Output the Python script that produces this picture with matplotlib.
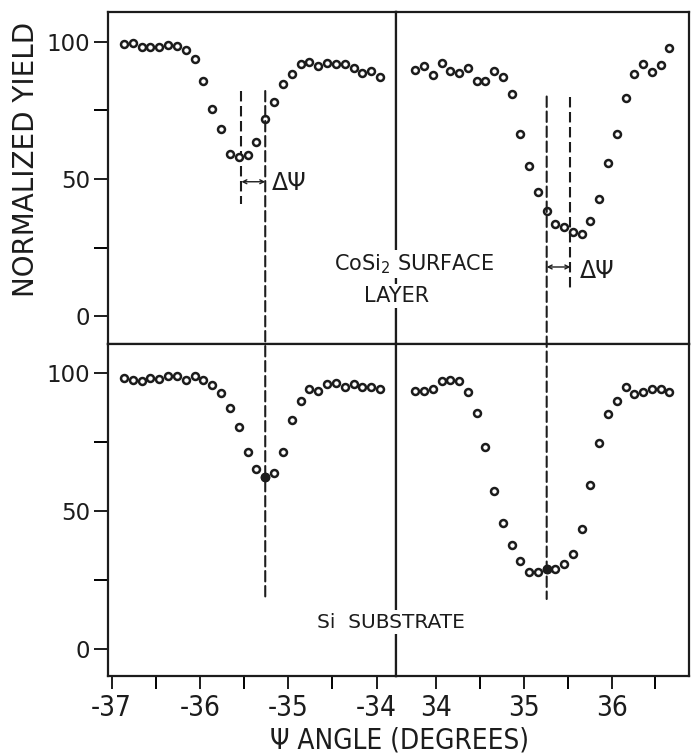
import matplotlib.pyplot as plt
from matplotlib.patches import ConnectionPatch

# scan angles (degrees) on both sides of the channel
psi_neg = [-36.86, -36.76, -36.66, -36.56, -36.46, -36.36, -36.26, -36.16, -36.06, -35.96,
           -35.86, -35.76, -35.66, -35.56, -35.46, -35.36, -35.26, -35.16, -35.06, -34.96,
           -34.86, -34.76, -34.66, -34.56, -34.46, -34.36, -34.26, -34.16, -34.06, -33.96]
psi_pos = [33.76, 33.86, 33.96, 34.06, 34.16, 34.26, 34.36, 34.46, 34.56, 34.66,
           34.76, 34.86, 34.96, 35.06, 35.16, 35.26, 35.36, 35.46, 35.56, 35.66,
           35.76, 35.86, 35.96, 36.06, 36.16, 36.26, 36.36, 36.46, 36.56, 36.66]

# normalized yield, CoSi2 surface layer
layer_neg = [99.2, 99.3, 97.9, 97.9, 98.1, 98.9, 98.2, 96.8, 93.8, 85.7,
             75.3, 68.1, 59.1, 58.0, 58.8, 63.5, 71.9, 78.0, 84.4, 88.1,
             91.7, 92.4, 91.2, 92.2, 91.9, 91.9, 90.5, 88.6, 89.3, 87.2]
layer_pos = [89.5, 91.0, 88.0, 92.3, 89.3, 88.5, 90.3, 85.7, 85.7, 89.4,
             87.0, 81.0, 66.5, 54.7, 45.1, 38.3, 33.5, 32.7, 30.7, 30.0,
             34.9, 42.8, 55.9, 66.2, 79.6, 88.1, 92.0, 88.8, 91.5, 97.6]

# normalized yield, Si substrate
sub_neg = [98.5, 97.6, 97.3, 98.5, 98.0, 98.9, 98.9, 97.7, 99.2, 97.6,
           95.7, 93.0, 87.6, 80.7, 71.3, 65.3, 62.3, 63.8, 71.3, 83.2,
           89.9, 94.5, 93.6, 96.1, 96.5, 94.9, 96.2, 95.0, 95.1, 94.5]
sub_pos = [93.5, 93.5, 94.4, 97.1, 97.7, 97.3, 93.1, 85.5, 73.4, 57.3,
           45.5, 37.7, 31.9, 27.8, 27.9, 29.0, 29.0, 30.8, 34.3, 43.4,
           59.5, 74.8, 85.1, 90.0, 95.1, 92.4, 93.1, 94.3, 94.3, 93.2]

# substrate minimum and shifted layer minimum
psi_sub_min = 35.26
psi_layer_min = 35.53

neg_ticks = [-37, -36, -35, -34]
neg_tick_labels = ['-37', '-36', '-35', '-34']
pos_ticks = [34, 35, 36]
pos_tick_labels = ['34', '35', '36']
yield_ticks = [0, 50, 100]

INK = '#1c1c1c'
plt.rcParams['font.family'] = ['DejaVu Sans']

fig = plt.figure(figsize=(6.94, 7.56), dpi=100)

L, M, R = 0.1556, 0.5706, 0.9935
B, C, T = 0.1058, 0.545, 0.984

ax_tl = fig.add_axes([L, C, M - L, T - C])
ax_tr = fig.add_axes([M, C, R - M, T - C])
ax_bl = fig.add_axes([L, B, M - L, C - B])
ax_br = fig.add_axes([M, B, R - M, C - B])

ylim = (-10, 110.7)
for ax in (ax_tl, ax_tr, ax_bl, ax_br):
    ax.set_ylim(*ylim)
    for s in ax.spines.values():
        s.set_linewidth(1.6)
        s.set_color(INK)
    ax.tick_params(direction='out', length=9, width=1.4, color=INK,
                   labelcolor=INK)
    ax.set_xticks([])
    ax.set_yticks([])

for ax in (ax_tl, ax_bl):
    ax.set_xlim(-37.04, -33.78)
for ax in (ax_tr, ax_br):
    ax.set_xlim(33.54, 36.89)

# yield axis on the left panels
for ax in (ax_tl, ax_bl):
    ax.set_yticks(yield_ticks)
    ax.set_yticklabels([str(v) for v in yield_ticks], fontsize=16.5)
    ax.set_yticks([25, 75], minor=True)
    ax.tick_params(axis='y', which='both', direction='out', length=10,
                   width=1.4, pad=3)

# angle axis on the bottom panels
ax_bl.set_xticks(neg_ticks)
ax_bl.set_xticklabels(neg_tick_labels)
ax_bl.set_xticks([-36.5, -35.5, -34.5], minor=True)
ax_br.set_xticks(pos_ticks)
ax_br.set_xticklabels(pos_tick_labels)
ax_br.set_xticks([34.5, 35.5, 36.5], minor=True)
for ax in (ax_bl, ax_br):
    ax.tick_params(axis='x', which='both', direction='out', length=9,
                   width=1.4, pad=4)
    for lab in ax.get_xticklabels():
        lab.set_fontsize(20)
        lab.set_fontstretch('condensed')

mk = dict(ls='none', marker='o', ms=5.0, mfc='white', mec=INK, mew=1.8,
          zorder=3)
ax_tl.plot(psi_neg, layer_neg, **mk)
ax_tr.plot(psi_pos, layer_pos, **mk)
ax_bl.plot(psi_neg, sub_neg, **mk)
ax_br.plot(psi_pos, sub_pos, **mk)

# filled point at the substrate minimum
i_neg = psi_neg.index(-psi_sub_min)
i_pos = psi_pos.index(psi_sub_min)
ax_bl.plot(psi_neg[i_neg], sub_neg[i_neg], 'o', ms=6, color=INK, zorder=4)
ax_br.plot(psi_pos[i_pos], sub_pos[i_pos], 'o', ms=6, color=INK, zorder=4)

dash = (0, (5, 2.2))

# substrate minimum carried through both panels
for sgn, ax_top, ax_bot, y0 in ((-1, ax_tl, ax_bl, 82), (1, ax_tr, ax_br, 80)):
    x = sgn * psi_sub_min
    con = ConnectionPatch(xyA=(x, y0), coordsA=ax_top.transData,
                          xyB=(x, 18), coordsB=ax_bot.transData,
                          ls=dash, lw=1.5, color=INK, zorder=5)
    fig.add_artist(con)

# layer minimum and shift marker
ax_tl.plot([-psi_layer_min, -psi_layer_min], [82, 41], ls=dash, lw=1.5,
           color=INK)
ax_tr.plot([psi_layer_min, psi_layer_min], [80, 10], ls=dash, lw=1.5,
           color=INK)

arrow = dict(arrowstyle='<->', lw=1.0, color=INK, shrinkA=0, shrinkB=0,
             mutation_scale=7)
ax_tl.annotate('', xy=(-psi_layer_min, 49), xytext=(-psi_sub_min, 49),
               arrowprops=arrow)
ax_tr.annotate('', xy=(psi_sub_min, 18), xytext=(psi_layer_min, 18),
               arrowprops=arrow)
ax_tl.text(-35.19, 48.5, 'ΔΨ', fontsize=17, ha='left', va='center',
           color=INK)
ax_tr.text(35.64, 16.5, 'ΔΨ', fontsize=17, ha='left', va='center',
           color=INK)

# panel captions
fig.text(414 / 694, 1 - 264 / 756, 'CoSi$_2$ SURFACE', fontsize=15,
         ha='center', va='center', color=INK,
         bbox=dict(fc='white', ec='none', pad=1.5), zorder=6)
fig.text(397 / 694, 1 - 296 / 756, 'LAYER', fontsize=15, ha='center',
         va='center', color=INK,
         bbox=dict(fc='white', ec='none', pad=1.5), zorder=6)
fig.text(391 / 694, 1 - 622 / 756, 'Si  SUBSTRATE', fontsize=14.5,
         ha='center', va='center', color=INK,
         bbox=dict(fc='white', ec='none', pad=2), zorder=6)

fig.text(26 / 694, 1 - 159 / 756, 'NORMALIZED YIELD', rotation=90,
         fontsize=20, ha='center', va='center', color=INK)
fig.text(400 / 694, 1 - 740 / 756, 'Ψ ANGLE (DEGREES)', fontsize=20,
         fontstretch='condensed', ha='center', va='center', color=INK)

fig.savefig('out.png', dpi=100, facecolor='white')
